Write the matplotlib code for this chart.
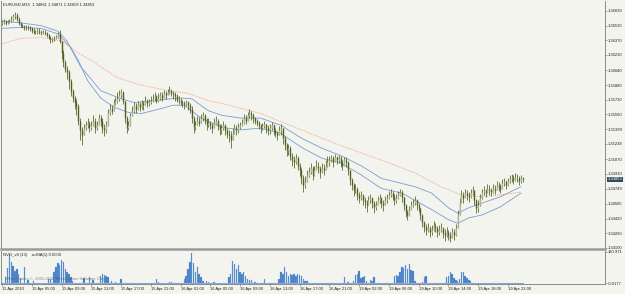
import matplotlib
matplotlib.use("Agg")
import matplotlib.pyplot as plt
from matplotlib.transforms import blended_transform_factory

# ---------------- data ----------------
title_text = "EURUSD,M15  1.34861 1.34871 1.34819 1.34853"
first_open = 1.3656

closes = [
    1.3657,1.3658,1.3656,1.3657,1.3658,1.3659,1.3663,1.3665,1.3660,1.3656,1.3654,1.3653,1.3652,1.3651,1.3652,1.3650,
    1.3647,1.3646,1.3646,1.3647,1.3646,1.3645,1.3646,1.3645,1.3643,1.3640,1.3638,1.3639,1.3639,1.3641,1.3644,1.3636,
    1.3623,1.3613,1.3606,1.3602,1.3593,1.3582,1.3574,1.3569,1.3565,1.3549,1.3539,1.3533,1.3541,1.3544,1.3547,1.3542,
    1.3544,1.3549,1.3541,1.3544,1.3552,1.3549,1.3541,1.3539,1.3544,1.3558,1.3562,1.3560,1.3568,1.3571,1.3573,1.3577,
    1.3580,1.3571,1.3552,1.3541,1.3544,1.3555,1.3560,1.3565,1.3562,1.3567,1.3564,1.3568,1.3566,1.3571,1.3568,1.3569,
    1.3571,1.3573,1.3576,1.3571,1.3574,1.3577,1.3574,1.3579,1.3577,1.3580,1.3582,1.3579,1.3578,1.3576,1.3572,1.3571,
    1.3570,1.3568,1.3567,1.3569,1.3566,1.3562,1.3552,1.3542,1.3544,1.3549,1.3547,1.3552,1.3555,1.3549,1.3544,1.3547,
    1.3544,1.3541,1.3547,1.3549,1.3543,1.3539,1.3541,1.3544,1.3539,1.3535,1.3533,1.3528,1.3536,1.3541,1.3539,1.3542,
    1.3544,1.3547,1.3552,1.3549,1.3555,1.3558,1.3555,1.3552,1.3549,1.3547,1.3544,1.3541,1.3543,1.3545,1.3541,1.3539,
    1.3541,1.3544,1.3539,1.3536,1.3533,1.3539,1.3541,1.3530,1.3522,1.3517,1.3519,1.3511,1.3506,1.3504,1.3508,1.3500,
    1.3495,1.3486,1.3479,1.3482,1.3490,1.3493,1.3497,1.3490,1.3495,1.3500,1.3497,1.3493,1.3497,1.3495,1.3500,1.3504,
    1.3506,1.3508,1.3504,1.3509,1.3506,1.3508,1.3503,1.3500,1.3506,1.3504,1.3495,1.3484,1.3479,1.3473,1.3475,1.3468,
    1.3465,1.3468,1.3462,1.3460,1.3457,1.3462,1.3465,1.3459,1.3455,1.3457,1.3462,1.3465,1.3459,1.3457,1.3462,1.3465,
    1.3468,1.3470,1.3466,1.3462,1.3465,1.3468,1.3471,1.3466,1.3457,1.3449,1.3446,1.3452,1.3457,1.3459,1.3462,1.3457,
    1.3454,1.3446,1.3438,1.3433,1.3430,1.3432,1.3428,1.3430,1.3434,1.3432,1.3428,1.3430,1.3432,1.3426,1.3424,1.3428,
    1.3424,1.3421,1.3428,1.3424,1.3432,1.3446,1.3460,1.3468,1.3465,1.3470,1.3468,1.3466,1.3470,1.3473,1.3462,1.3454,
    1.3457,1.3465,1.3471,1.3473,1.3470,1.3475,1.3473,1.3471,1.3475,1.3473,1.3479,1.3477,1.3474,1.3481,1.3482,1.3479,
    1.3483,1.3485,1.3486,1.3484,1.3487,1.3486,1.3483,1.34861,1.34853,
]
highs = [
    1.3659,1.3660,1.3659,1.3659,1.3660,1.3663,1.3666,1.3668,1.3667,1.3662,1.3657,1.3655,1.3654,1.3654,1.3654,1.3653,
    1.3651,1.3650,1.3648,1.3650,1.3650,1.3648,1.3648,1.3648,1.3646,1.3644,1.3642,1.3641,1.3642,1.3643,1.3646,1.3648,
    1.3636,1.3626,1.3615,1.3609,1.3604,1.3595,1.3584,1.3576,1.3573,1.3567,1.3552,1.3542,1.3545,1.3549,1.3552,1.3549,
    1.3549,1.3555,1.3552,1.3549,1.3556,1.3555,1.3552,1.3545,1.3549,1.3562,1.3567,1.3566,1.3573,1.3575,1.3580,1.3583,
    1.3584,1.3582,1.3571,1.3554,1.3549,1.3558,1.3565,1.3569,1.3568,1.3571,1.3569,1.3572,1.3571,1.3576,1.3573,1.3573,
    1.3576,1.3578,1.3580,1.3577,1.3579,1.3581,1.3580,1.3583,1.3582,1.3584,1.3587,1.3584,1.3582,1.3580,1.3578,1.3576,
    1.3574,1.3572,1.3571,1.3572,1.3571,1.3568,1.3565,1.3554,1.3549,1.3554,1.3553,1.3556,1.3559,1.3556,1.3552,1.3552,
    1.3549,1.3547,1.3552,1.3554,1.3551,1.3545,1.3545,1.3549,1.3545,1.3541,1.3539,1.3538,1.3541,1.3545,1.3544,1.3547,
    1.3548,1.3551,1.3556,1.3555,1.3559,1.3562,1.3560,1.3557,1.3553,1.3551,1.3549,1.3546,1.3547,1.3549,1.3546,1.3544,
    1.3545,1.3548,1.3545,1.3541,1.3538,1.3543,1.3545,1.3541,1.3532,1.3525,1.3524,1.3521,1.3514,1.3510,1.3513,1.3510,
    1.3503,1.3497,1.3490,1.3489,1.3495,1.3498,1.3503,1.3500,1.3500,1.3506,1.3504,1.3500,1.3503,1.3502,1.3506,1.3510,
    1.3510,1.3512,1.3510,1.3513,1.3511,1.3512,1.3510,1.3506,1.3509,1.3509,1.3505,1.3495,1.3486,1.3481,1.3480,1.3477,
    1.3471,1.3472,1.3469,1.3466,1.3462,1.3467,1.3469,1.3466,1.3461,1.3461,1.3467,1.3469,1.3466,1.3462,1.3467,1.3469,
    1.3472,1.3474,1.3472,1.3469,1.3469,1.3472,1.3475,1.3473,1.3464,1.3458,1.3452,1.3456,1.3461,1.3464,1.3467,1.3464,
    1.3459,1.3454,1.3447,1.3440,1.3436,1.3437,1.3434,1.3435,1.3439,1.3437,1.3434,1.3435,1.3437,1.3433,1.3431,1.3433,
    1.3430,1.3427,1.3432,1.3431,1.3436,1.3451,1.3465,1.3473,1.3471,1.3475,1.3473,1.3471,1.3474,1.3478,1.3473,1.3463,
    1.3462,1.3469,1.3475,1.3478,1.3475,1.3480,1.3479,1.3476,1.3480,1.3479,1.3483,1.3482,1.3480,1.3485,1.3486,1.3484,
    1.3487,1.3490,1.3491,1.3490,1.3492,1.3491,1.3489,1.3490,1.34871,
]
lows = [
    1.3654,1.3655,1.3654,1.3655,1.3656,1.3657,1.3658,1.3660,1.3658,1.3654,1.3652,1.3650,1.3648,1.3648,1.3648,1.3647,
    1.3645,1.3644,1.3644,1.3644,1.3644,1.3643,1.3644,1.3643,1.3641,1.3638,1.3634,1.3635,1.3636,1.3638,1.3640,1.3634,
    1.3617,1.3608,1.3602,1.3595,1.3584,1.3576,1.3569,1.3562,1.3555,1.3544,1.3528,1.3522,1.3535,1.3539,1.3541,1.3537,
    1.3539,1.3543,1.3536,1.3539,1.3544,1.3543,1.3536,1.3532,1.3536,1.3543,1.3555,1.3556,1.3560,1.3566,1.3568,1.3571,
    1.3574,1.3567,1.3547,1.3536,1.3539,1.3543,1.3554,1.3558,1.3558,1.3561,1.3560,1.3562,1.3561,1.3566,1.3564,1.3565,
    1.3567,1.3569,1.3571,1.3568,1.3570,1.3572,1.3571,1.3574,1.3573,1.3577,1.3578,1.3576,1.3573,1.3571,1.3569,1.3567,
    1.3566,1.3564,1.3562,1.3565,1.3561,1.3558,1.3547,1.3536,1.3539,1.3544,1.3543,1.3547,1.3549,1.3545,1.3539,1.3542,
    1.3540,1.3536,1.3541,1.3545,1.3539,1.3533,1.3535,1.3539,1.3534,1.3530,1.3526,1.3519,1.3528,1.3535,1.3534,1.3536,
    1.3540,1.3543,1.3546,1.3545,1.3549,1.3552,1.3550,1.3547,1.3545,1.3543,1.3540,1.3536,1.3539,1.3541,1.3536,1.3533,
    1.3535,1.3539,1.3534,1.3531,1.3528,1.3533,1.3534,1.3524,1.3517,1.3510,1.3512,1.3506,1.3500,1.3497,1.3502,1.3495,
    1.3489,1.3480,1.3471,1.3476,1.3483,1.3488,1.3491,1.3484,1.3489,1.3495,1.3492,1.3487,1.3492,1.3490,1.3495,1.3498,
    1.3500,1.3504,1.3499,1.3505,1.3502,1.3503,1.3498,1.3495,1.3500,1.3499,1.3490,1.3479,1.3473,1.3467,1.3470,1.3462,
    1.3459,1.3462,1.3457,1.3454,1.3449,1.3457,1.3459,1.3454,1.3448,1.3452,1.3457,1.3459,1.3454,1.3450,1.3457,1.3459,
    1.3464,1.3466,1.3462,1.3457,1.3459,1.3464,1.3467,1.3460,1.3452,1.3444,1.3441,1.3445,1.3452,1.3455,1.3457,1.3452,
    1.3449,1.3441,1.3433,1.3428,1.3424,1.3427,1.3422,1.3424,1.3429,1.3427,1.3422,1.3424,1.3427,1.3421,1.3418,1.3422,
    1.3419,1.3416,1.3422,1.3419,1.3423,1.3432,1.3446,1.3459,1.3459,1.3465,1.3462,1.3460,1.3465,1.3468,1.3457,1.3448,
    1.3449,1.3456,1.3464,1.3468,1.3466,1.3470,1.3468,1.3467,1.3470,1.3469,1.3473,1.3472,1.3470,1.3475,1.3478,1.3474,
    1.3478,1.3481,1.3482,1.3480,1.3483,1.3482,1.3479,1.3481,1.34819,
]

# moving-average lines (bar index, price)
ma_high_idx = [0,10,21,30,35,42,53,64,71,82,95,102,111,118,128,139,150,161,172,182,193,204,222,231,240,245,251,258,268,279]
ma_high_val = [1.3658,1.3656,1.3653,1.3647,1.3636,1.3609,1.3582,1.3573,1.3569,1.3571,1.3574,1.3573,1.3560,1.3555,1.3552,
               1.3552,1.3544,1.3530,1.3519,1.3511,1.3500,1.3486,1.3477,1.3470,1.3454,1.3448,1.3454,1.3459,1.3466,1.3477]
ma_low_idx = [0,10,21,30,37,41,46,53,60,68,75,85,92,98,107,118,128,139,150,161,172,182,193,204,215,222,231,240,245,251,258,268,279]
ma_low_val = [1.3650,1.3651,1.3650,1.3644,1.3629,1.3615,1.3593,1.3574,1.3564,1.3558,1.3557,1.3562,1.3566,1.3566,1.3552,
              1.3542,1.3539,1.3541,1.3535,1.3520,1.3508,1.3503,1.3490,1.3475,1.3470,1.3462,1.3452,1.3441,1.3437,1.3443,
              1.3446,1.3455,1.3470]
ma_slow_idx = [0,10,21,32,42,48,62,75,89,100,111,118,139,161,182,204,222,236,247,256,268,279]
ma_slow_val = [1.3633,1.3639,1.3640,1.3636,1.3622,1.3615,1.3596,1.3588,1.3582,1.3579,1.3571,1.3568,1.3557,1.3539,
               1.3522,1.3506,1.3492,1.3477,1.3468,1.3466,1.3468,1.3471]

# lower indicator histogram (bar index, value)
ind_idx = [2,3,4,5,6,7,8,9,10,12,14,17,25,26,28,29,30,31,32,33,34,35,36,37,38,44,47,49,53,54,55,56,57,59,61,64,
           83,84,90,91,98,99,100,101,102,103,104,105,106,107,108,110,111,114,122,123,124,125,126,127,128,129,130,
           131,132,133,134,136,141,149,150,151,152,153,154,155,156,157,158,159,160,161,162,163,164,184,186,189,190,
           191,192,193,194,195,196,198,199,200,211,212,213,214,215,216,217,218,219,220,221,222,226,227,228,239,240,
           241,242,243,244,245,246,247,248,249,250,251,252]
ind_val = [34,85,170,125,102,68,79,51,28,91,17,11,23,23,62,96,119,108,136,125,79,62,51,34,11,28,34,17,40,51,45,40,34,11,6,23,
           23,6,6,6,23,40,79,125,175,119,62,96,51,34,11,11,6,6,34,51,130,113,79,108,62,51,62,
           40,23,17,17,6,23,23,62,51,91,62,40,51,45,51,40,51,45,40,23,11,11,34,6,11,45,
           51,68,28,34,40,11,17,11,34,40,45,40,62,91,85,108,79,113,74,68,11,6,34,40,34,40,
           62,51,28,17,11,23,62,62,40,28,17,11]
ind_top = 180.971
ind_bottom_label = "-0.0177"
ind_label = "NVO_v8 (13)    a=MA(1) 0.0000"

price_ticks = [1.36690,1.36530,1.36370,1.36210,1.36040,1.35880,1.35720,1.35560,1.35399,1.35238,
               1.35070,1.34910,1.34749,1.34585,1.34420,1.34260,1.34100]
time_labels = ["15 Apr 2010","15 Apr 05:00","15 Apr 09:00","15 Apr 13:00","15 Apr 17:00","15 Apr 21:00",
               "16 Apr 01:00","16 Apr 05:00","16 Apr 09:00","16 Apr 13:00","16 Apr 17:00","16 Apr 21:00",
               "19 Apr 02:00","19 Apr 06:00","19 Apr 10:00","19 Apr 14:00","19 Apr 18:00","19 Apr 22:00"]
bars_per_label = 16
current_price = 1.34853

# ---------------- style ----------------
BG = "#f4f4ef"
AXC = "#7a7a7a"
UPC = "#b9c1a4"
DNC = "#4e5f1e"
WICK = "#4e5f1e"
BLUE = "#7b9bd2"
ORANGE = "#ee9a70"
HIST = "#3f7bc4"
FS = 3.0
plt.rcParams["font.family"] = ["Liberation Sans", "DejaVu Sans"]

fig = plt.figure(figsize=(6.25, 2.94), dpi=100)
fig.patch.set_facecolor(BG)

ax = fig.add_axes([0.0016, 0.1531, 0.9664, 0.8435])
ax2 = fig.add_axes([0.0016, 0.0340, 0.9664, 0.1122])
for a in (ax, ax2):
    a.set_facecolor(BG)
    for s in a.spines.values():
        s.set_color(AXC)
        s.set_linewidth(0.6)
    a.spines["top"].set_visible(False)

n = len(closes)
opens = [first_open] + closes[:-1]
xs = list(range(n))

# candles
for i in xs:
    o, c, h, l = opens[i], closes[i], highs[i], lows[i]
    top = max(h, o, c)
    bot = min(l, o, c)
    ax.vlines(i, bot, top, color=WICK, linewidth=0.55, zorder=3)
    col = UPC if c >= o else DNC
    b0, b1 = min(o, c), max(o, c)
    if b1 - b0 < 0.00003:
        b1 = b0 + 0.00003
    ax.vlines(i, b0, b1, color=col, linewidth=1.0, zorder=4)
    if c >= o:
        ax.vlines(i, b0, b1, color=WICK, linewidth=0.3, zorder=5, alpha=0.5)

ax.plot(ma_high_idx, ma_high_val, color=BLUE, linewidth=0.6, zorder=2)
ax.plot(ma_low_idx, ma_low_val, color=BLUE, linewidth=0.6, zorder=2)
ax.plot(ma_slow_idx, ma_slow_val, color=ORANGE, linewidth=0.6, linestyle=(0, (1.2, 1.2)), zorder=2)

xl = (-0.54, 324.2)
ax.set_xlim(*xl)
ax.set_ylim(1.34089, 1.36799)
ax.yaxis.tick_right()
ax.set_yticks(price_ticks)
ax.set_yticklabels([f"{p:.5f}" for p in price_ticks])
ax.tick_params(axis="y", direction="out", length=1.5, width=0.5, color=AXC,
               labelsize=FS, pad=0.6, labelcolor="#222222")
ax.set_xticks([])
ax.spines["bottom"].set_linewidth(1.8)
ax.spines["bottom"].set_color("#9a9a9a")

ax.text(0.004, 0.992, title_text, transform=ax.transAxes, fontsize=FS, va="top", ha="left", color="#222222")

trans = blended_transform_factory(ax.transAxes, ax.transData)
ax.text(1.004, current_price, f"{current_price:.5f}", transform=trans, fontsize=FS, va="center", ha="left",
        color="white", bbox=dict(boxstyle="square,pad=0.12", facecolor="#33485a", edgecolor="none"), zorder=10,
        clip_on=False)

# indicator panel
ax2.bar(ind_idx, ind_val, width=0.75, color=HIST, edgecolor="#8fb2e0", linewidth=0.2, zorder=3)
ax2.plot([0, n - 1], [0, 0], color="#86a9d9", linewidth=0.8, zorder=2)
ax2.set_xlim(*xl)
ax2.set_ylim(-5.66, 186.6)
ax2.yaxis.tick_right()
ax2.set_yticks([ind_top, 0])
ax2.set_yticklabels([f"{ind_top:.3f}", ind_bottom_label])
ax2.tick_params(axis="y", direction="out", length=1.5, width=0.5, color=AXC,
                labelsize=FS, pad=0.6, labelcolor="#222222")
tick_pos = [k * bars_per_label for k in range(len(time_labels))]
ax2.set_xticks(tick_pos)
ax2.set_xticklabels(time_labels)
ax2.tick_params(axis="x", direction="out", length=1.5, width=0.5, color=AXC,
                labelsize=FS, pad=1, labelcolor="#222222")
for lab in ax2.get_xticklabels():
    lab.set_ha("left")
ax2.text(0.004, 0.93, ind_label, transform=ax2.transAxes, fontsize=FS, va="top", ha="left", color="#222222")
ax2.text(0.008, 0.08, "MetaQuotes \u00a9, 2001-2010 MetaQuotes Software Corp.", transform=ax2.transAxes,
         fontsize=FS, va="bottom", ha="left", color="#555555", alpha=0.7, zorder=6)

fig.savefig("out.png", dpi=100, facecolor=BG)
